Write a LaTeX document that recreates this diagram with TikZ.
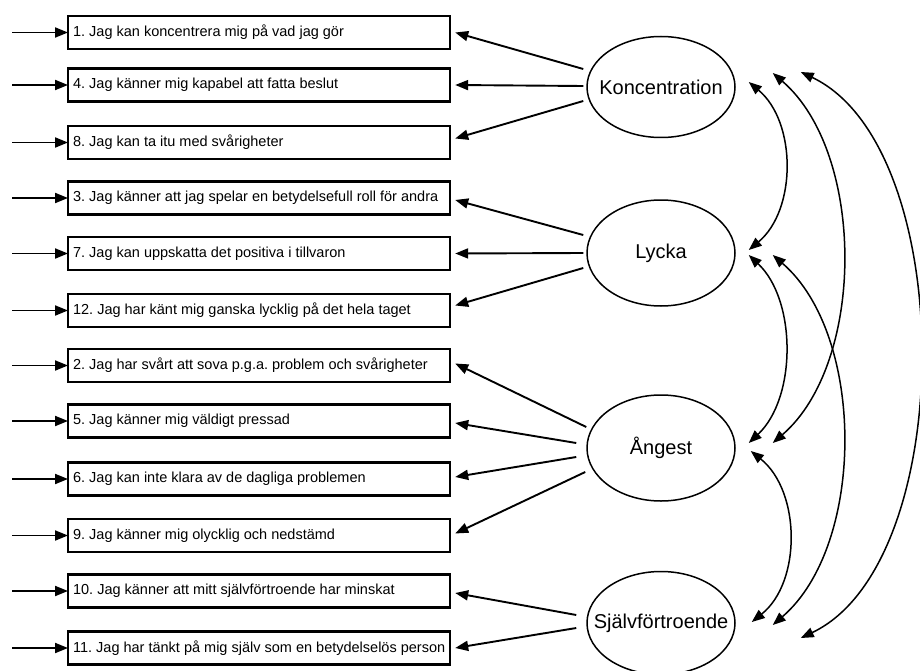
\documentclass[tikz,border=0pt]{standalone}
\usepackage{fontspec}
\setmainfont{Liberation Sans}
\usetikzlibrary{arrows.meta,shapes.geometric}
\newcommand{\itemtext}[1]{\makebox[372pt][l]{#1}}
\newcommand{\lattext}[1]{\makebox[0pt][c]{#1}}
\begin{document}
\frenchspacing
\begin{tikzpicture}[x=1pt,y=-1pt,
  itembox/.style={draw,line width=2.2pt,anchor=west,
    inner xsep=5pt,inner ysep=0pt,minimum height=33pt,font=\fontsize{14.5}{17}\selectfont\frenchspacing},
  latent/.style={draw,ellipse,line width=1.5pt,inner sep=0pt,minimum width=148pt,
    font=\fontsize{20}{24}\selectfont},
  tipA/.style={-{Triangle[length=13pt,width=10pt]}},
  inarrow/.style={tipA,line width=1.9pt},
  loadarrow/.style={tipA,line width=1.9pt},
  covarrow/.style={{Triangle[length=13pt,width=10pt]}-{Triangle[length=13pt,width=10pt]},line width=1.5pt}
]
\fill[white] (0,0) rectangle (920,671);
\useasboundingbox (0,0) rectangle (920,671);

% item boxes
\node[itembox] (b1)  at (67,32.5)  {\itemtext{1. Jag kan koncentrera mig på vad jag gör}};
\node[itembox] (b4)  at (67,85)    {\itemtext{4. Jag känner mig kapabel att fatta beslut}};
\node[itembox] (b8)  at (67,142.5) {\itemtext{8. Jag kan ta itu med svårigheter}};
\node[itembox] (b3)  at (67,198)   {\itemtext{3. Jag känner att jag spelar en betydelsefull roll för andra}};
\node[itembox] (b7)  at (67,253.5) {\itemtext{7. Jag kan uppskatta det positiva i tillvaron}};
\node[itembox] (b12) at (67,310.5) {\itemtext{12. Jag har känt mig ganska lycklig på det hela taget}};
\node[itembox] (b2)  at (67,365.5) {\itemtext{2. Jag har svårt att sova p.g.a. problem och svårigheter}};
\node[itembox] (b5)  at (67,421)   {\itemtext{5. Jag känner mig väldigt pressad}};
\node[itembox] (b6)  at (67,479)   {\itemtext{6. Jag kan inte klara av de dagliga problemen}};
\node[itembox] (b9)  at (67,535.5) {\itemtext{9. Jag känner mig olycklig och nedstämd}};
\node[itembox] (b10) at (67,591)   {\itemtext{10. Jag känner att mitt självförtroende har minskat}};
\node[itembox] (b11) at (67,648)   {\itemtext{11. Jag har tänkt på mig själv som en betydelselös person}};

% error inputs
\foreach \b in {b1,b4,b8,b3,b7,b12,b2,b5,b6,b9,b10,b11}{
  \coordinate (s\b) at ([xshift=-55pt]\b.west);
  \draw[inarrow] (s\b) -- ([xshift=1pt]\b.west);
}

% latent variables
\node[latent,minimum height=101pt] (konc)   at (661,87)  {\lattext{Koncentration}};
\node[latent,minimum height=106pt] (lycka)  at (661,253) {\lattext{Lycka}};
\node[latent,minimum height=106pt] (angest) at (661,448) {\lattext{Ångest}};
\node[latent,minimum height=103pt] (sjalv)  at (661,623) {\lattext{Självförtroende}};

% loadings
\draw[loadarrow] ([xshift=-3pt,yshift=18pt]konc.west) -- ([xshift=4pt,yshift=0pt]b1.east);
\draw[loadarrow] ([xshift=-3pt,yshift=1pt]konc.west) -- ([xshift=4pt]b4.east);
\draw[loadarrow] ([xshift=-3pt,yshift=-14pt]konc.west) -- ([xshift=4pt,yshift=4pt]b8.east);

\draw[loadarrow] ([xshift=-3pt,yshift=18pt]lycka.west) -- ([xshift=4pt,yshift=-2pt]b3.east);
\draw[loadarrow] ([xshift=-3pt,yshift=0pt]lycka.west) -- ([xshift=4pt]b7.east);
\draw[loadarrow] ([xshift=-3pt,yshift=-15pt]lycka.west) -- ([xshift=4pt,yshift=5pt]b12.east);

\draw[loadarrow] ([xshift=0pt,yshift=21pt]angest.west) -- ([xshift=4pt,yshift=2pt]b2.east);
\draw[loadarrow] ([xshift=-10pt,yshift=5pt]angest.west) -- ([xshift=4pt,yshift=-2pt]b5.east);
\draw[loadarrow] ([xshift=-10pt,yshift=-9pt]angest.west) -- ([xshift=4pt,yshift=2pt]b6.east);
\draw[loadarrow] ([xshift=-1pt,yshift=-24pt]angest.west) -- ([xshift=4pt,yshift=2pt]b9.east);

\draw[loadarrow] ([xshift=-10pt,yshift=8pt]sjalv.west) -- ([xshift=4pt,yshift=-2pt]b10.east);
\draw[loadarrow] ([xshift=-10pt,yshift=-5pt]sjalv.west) -- ([xshift=4pt]b11.east);

% covariances
\draw[covarrow] ([xshift=13pt,yshift=5pt]konc.east)
  .. controls +(48,40) and +(48,-40) .. ([xshift=13pt,yshift=3pt]lycka.east);
\draw[covarrow] ([xshift=13pt,yshift=-2pt]lycka.east)
  .. controls +(48,45) and +(48,-45) .. ([xshift=13pt,yshift=5pt]angest.east);
\draw[covarrow] ([xshift=15pt,yshift=-3pt]angest.east)
  .. controls +(50,40) and +(50,-40) .. ([xshift=16pt,yshift=1pt]sjalv.east);
\draw[covarrow] ([xshift=37pt,yshift=14pt]konc.east)
  .. controls +(93,80) and +(93,-80) .. ([xshift=37pt,yshift=5pt]angest.east);
\draw[covarrow] ([xshift=37pt,yshift=-2pt]lycka.east)
  .. controls +(93,80) and +(93,-80) .. ([xshift=37pt,yshift=-2pt]sjalv.east);
\draw[covarrow] ([xshift=65pt,yshift=15pt]konc.east)
  .. controls +(158,75) and +(158,-75) .. ([xshift=65pt,yshift=-15pt]sjalv.east);
\end{tikzpicture}
\end{document}
